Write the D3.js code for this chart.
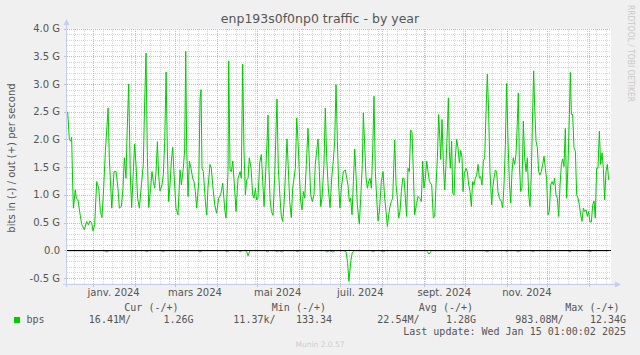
<!DOCTYPE html>
<html>
<head>
<meta charset="utf-8">
<script src="https://cdn.jsdelivr.net/npm/d3@7"></script>
<style>
  html, body { margin: 0; padding: 0; background: #F0F0F0; }
  svg { display: block; }
</style>
</head>
<body>
<svg id="chart" width="640" height="355"></svg>
<script>
// ---------------- DATA ----------------
const chartTitle = "enp193s0f0np0 traffic - by year";
const yAxisTitle = "bits in (-) / out (+) per second";
// time reference: day offsets are counted from this date (UTC)
const baseDate = "2024-01-01T00:00:00Z";
const domainStart = "2023-12-12T14:00:00Z";
const domainEnd = "2025-01-17T00:00:00Z";

const yTickValues = [-0.5, 0, 0.5, 1.0, 1.5, 2.0, 2.5, 3.0, 3.5, 4.0];
const yTickLabels = ["-0.5 G", "0.0", "0.5 G", "1.0 G", "1.5 G", "2.0 G", "2.5 G", "3.0 G", "3.5 G", "4.0 G"];
const xTickMonths = ["2024-01-01", "2024-03-01", "2024-05-01", "2024-07-01", "2024-09-01", "2024-11-01"];
const xTickLabels = ["janv. 2024", "mars 2024", "mai 2024", "juil. 2024", "sept. 2024", "nov. 2024"];

// out (+) traffic, Gbit/s, at day offsets from baseDate
const outDays = [
-18.9,-17.7,-16.7,-16.0,-15.2,-14.7,-13.3,-12.5,-11.3,-10.1,-8.6,-6.6,-4.9,-3.7,-2.4,-1.2,-0.2,1.0,2.5,4.0,
5.2,6.4,7.7,8.9,10.9,11.8,13.6,15.3,16.8,18.2,19.2,20.7,21.9,22.9,24.1,24.9,26.1,27.3,28.3,29.5,
30.5,31.5,32.7,34.0,35.5,36.9,37.9,38.9,39.9,40.9,42.3,43.3,44.3,45.3,46.3,47.3,48.2,49.2,50.7,51.7,
52.7,53.7,54.6,55.6,56.6,57.6,58.6,59.6,61.0,62.5,64.0,65.0,66.4,67.4,68.2,68.9,69.9,70.9,72.1,73.3,
74.3,75.3,76.3,77.8,78.8,79.5,80.2,81.2,82.7,83.7,84.6,86.1,87.1,88.1,89.6,91.0,92.5,94.0,95.5,97.0,
97.9,99.4,99.9,100.9,101.9,102.9,104.1,105.3,106.8,108.3,109.2,110.2,111.2,112.2,113.2,114.2,115.1,
116.4,117.6,118.6,119.6,120.5,121.5,122.8,124.0,125.0,126.0,127.2,128.2,128.9,129.6,130.4,131.4,132.6,133.8,134.8,
135.55,136.5,137.8,138.75,139.7,140.7,142.0,142.9,143.9,144.9,146.1,147.1,149.1,150.1,151.05,152.0,153.0,154.0,155.0,156.0,
157.2,158.4,159.4,160.4,161.6,162.85,163.8,164.8,165.8,166.8,167.8,168.75,170.2,171.2,172.2,173.4,174.7,175.9,177.1,178.1,
179.1,180.1,181.05,182.0,183.0,184.5,186.0,187.0,187.9,188.9,189.9,190.9,191.9,192.9,193.85,194.8,196.3,197.3,198.5,199.25,
200.2,201.2,202.2,203.2,204.2,205.2,206.15,207.1,208.1,209.1,210.1,211.1,212.5,213.8,215.0,216.0,217.0,218.0,218.9,219.9,
220.9,222.4,223.4,224.35,225.3,226.3,227.3,228.3,229.3,230.25,231.2,232.2,233.2,234.2,235.2,236.15,237.1,238.4,239.6,240.8,
242.05,243.0,244.0,245.0,246.0,247.0,248.0,
249.7,250.9,251.9,252.9,253.9,254.85,255.8,256.3,257.3,258.3,259.3,260.25,261.2,262.0,262.7,263.45,264.4,265.2,266.2,267.15,
268.1,269.1,270.1,271.1,272.1,272.8,273.8,275.0,276.0,277.0,278.0,278.95,279.9,280.9,281.9,282.9,283.9,284.85,285.8,286.8,
287.8,288.8,289.8,290.75,291.7,292.7,293.95,294.7,295.7,296.7,297.6,298.6,299.6,301.1,302.1,303.05,304.05,305.0,306.0,307.0,
308.0,308.95,309.9,310.9,311.9,312.9,313.6,314.4,315.35,316.3,317.3,318.3,319.3,320.3,321.25,322.2,323.2,324.2,324.95,325.7,
326.7,327.65,328.6,329.6,330.6,331.6,332.6,333.55,334.5,335.5,336.5,337.5,338.5,339.5,340.4,341.4,342.4,343.4,344.4,345.4,
346.35,347.3,348.3,349.3,350.3,351.3,352.0,352.75,353.7,354.7,355.7,356.7,357.7,358.65,359.6,360.6,361.6,362.6,363.6,364.55,
365.5,366.5,367.5,368.5,369.5,370.4,371.4,372.4,373.4,374.4,375.4,376.35,377.3,378.3,379.3,380.3
];
const outValues = [
2.50,2.00,1.97,2.04,1.18,0.76,1.09,0.94,0.91,0.70,0.47,0.37,0.52,0.46,0.53,0.49,0.35,0.46,1.24,1.12,
0.70,0.59,1.15,1.79,2.57,1.67,0.76,1.42,1.42,1.12,0.76,0.79,1.12,1.67,1.30,2.09,3.00,1.36,0.77,1.42,
1.92,1.55,0.94,0.76,1.18,1.55,2.69,3.56,1.67,0.77,1.12,1.42,1.24,1.12,1.42,1.96,1.36,1.07,1.18,1.38,
1.97,3.22,1.85,0.88,1.18,1.61,1.86,1.36,0.76,0.64,1.45,1.18,1.48,1.81,3.59,1.85,0.97,1.61,1.48,1.30,
1.24,1.06,0.76,1.24,2.75,2.90,1.48,1.42,0.88,0.64,1.12,1.55,1.48,1.18,0.82,0.67,0.94,1.00,1.21,0.73,
0.58,1.42,3.42,1.45,1.42,1.61,1.18,0.70,1.30,1.42,1.30,3.36,1.79,1.00,1.27,1.30,1.67,
1.48,1.00,0.94,1.12,0.91,0.94,1.58,1.73,1.24,0.79,1.42,1.97,2.44,1.48,0.94,0.70,0.63,1.30,2.15,
2.73,1.48,0.94,0.61,0.52,0.82,1.48,2.01,1.48,0.88,0.59,1.12,1.48,2.39,1.97,1.42,0.88,0.73,1.06,0.94,
1.55,2.20,1.61,1.00,0.88,1.00,1.55,1.79,2.01,1.42,0.79,0.94,1.55,2.57,1.67,1.12,0.77,1.30,1.61,1.97,
2.99,1.97,1.18,0.76,1.12,1.42,1.45,1.30,1.18,0.88,0.94,0.64,1.24,1.83,1.36,0.82,0.47,0.94,1.55,2.48,
1.91,1.33,1.12,1.24,1.30,1.12,1.79,2.78,1.42,0.94,0.53,0.70,1.24,1.42,0.94,0.70,0.43,0.64,0.79,0.88,
0.94,1.99,1.18,0.94,0.58,0.70,1.06,1.30,1.30,0.94,0.61,1.48,1.42,2.17,2.12,1.42,0.64,0.82,0.97,0.94,
0.88,1.61,1.12,1.30,1.61,1.42,1.24,
1.18,0.58,0.61,1.18,1.67,2.45,1.97,1.64,2.36,1.55,1.09,1.55,2.15,2.75,1.79,1.48,1.97,1.03,1.00,1.67,
2.00,1.85,1.58,1.80,1.67,1.06,1.39,1.48,1.42,1.18,1.06,0.79,1.24,1.18,1.30,1.36,1.55,1.30,1.33,1.18,
1.61,1.67,2.51,3.18,2.51,1.42,0.82,1.12,1.30,1.45,1.42,1.06,0.94,0.88,0.77,1.18,1.91,3.01,1.97,1.24,
0.85,1.42,1.67,1.55,1.73,2.33,2.84,1.55,1.06,1.12,2.33,1.67,1.42,1.67,1.00,0.79,1.36,2.51,3.24,2.57,
1.97,1.85,1.42,1.36,1.42,1.55,1.70,1.48,1.27,0.64,0.70,1.18,1.24,1.18,1.30,1.00,0.94,0.61,1.18,1.55,
1.65,1.51,2.20,0.94,1.58,2.45,3.21,2.45,2.45,1.85,1.79,1.00,0.94,0.82,0.64,0.52,0.76,0.70,0.73,0.61,
0.70,0.51,0.51,0.82,0.89,0.58,1.48,1.48,2.15,1.55,1.76,1.48,0.91,1.42,1.55,1.27
];

// in (-) traffic, Gbit/s (drawn below zero)
const inDays = [-19,-10,0,8,10.1,12,20,30,38,39.6,41,50,51.4,53,60,70,77,78.7,80.5,90,97,98.7,100.5,107,108.2,110,113,114.2,115.5,
120,127,128.2,130,134,135.6,137,139.3,141,149,150.3,152,160,171,172.4,174,176.8,178.5,185,186.5,187.7,188.6,189.4,190.1,191.1,
192.5,200,205,206.4,208,212,213.8,215.5,230,246,247.7,249.5,260,275,289,290.5,292,304,305.2,306.5,312,313.4,315,323,324.4,
326,340,350,351.7,353,365,366.5,368,380];
const inValues = [0.01,0.01,0.01,0.01,0.03,0.01,0.01,0.01,0.01,0.03,0.01,0.01,0.03,0.01,0.01,0.01,0.01,0.03,0.01,0.01,0.01,0.03,0.01,0.01,0.03,0.01,0.01,0.10,0.01,
0.01,0.01,0.03,0.01,0.01,0.03,0.01,0.03,0.01,0.01,0.03,0.01,0.01,0.01,0.03,0.01,0.03,0.01,0.01,0.025,0.24,0.56,0.36,0.18,0.04,
0.01,0.01,0.01,0.03,0.01,0.01,0.03,0.01,0.01,0.01,0.07,0.01,0.01,0.01,0.01,0.03,0.01,0.01,0.03,0.01,0.01,0.03,0.01,0.01,0.03,
0.01,0.01,0.01,0.03,0.01,0.01,0.03,0.01,0.01];

const legendName = "bps";
const legendHeaders = ["Cur (-/+)", "Min (-/+)", "Avg (-/+)", "Max (-/+)"];
const legendValues = ["16.41M/", "1.26G", "11.37k/", "133.34", "22.54M/", "1.28G", "983.08M/", "12.34G"];
const lastUpdate = "Last update: Wed Jan 15 01:00:02 2025";
const footer = "Munin 2.0.57";
const watermark = "RRDTOOL / TOBI OETIKER";

// ---------------- DRAWING ----------------
const svg = d3.select("#chart");
const W = 640, H = 355;
const plot = { left: 67, right: 611, top: 28.7, bottom: 283.5 };
const DAY = 86400000;
const base = new Date(baseDate).getTime();
const toDate = d => new Date(base + d * DAY);

const x = d3.scaleUtc().domain([new Date(domainStart), new Date(domainEnd)]).range([plot.left, plot.right]);
const y = d3.scaleLinear().domain([-0.6, 4.0]).range([plot.bottom, plot.top]);

const grey = "#555555";
const sans = "'DejaVu Sans', sans-serif";
const mono = "'DejaVu Sans Mono', monospace";

svg.append("rect").attr("width", W).attr("height", H).attr("fill", "#F0F0F0");
svg.append("rect").attr("x", plot.left).attr("y", plot.top)
  .attr("width", plot.right - plot.left).attr("height", plot.bottom - plot.top).attr("fill", "#FFFFFF");

const px = v => Math.round(v) + 0.5;
const grid = svg.append("g");
const minorColor = "#d6d6d6";
const majorColor = "#eeaaaa";

// minor horizontal grid (every 0.1 G)
const minorY = d3.range(-6, 41).map(i => i / 10).filter(v => Math.abs(v * 2 - Math.round(v * 2)) > 1e-6);
grid.selectAll(".hmin").data(minorY).join("line")
  .attr("x1", plot.left).attr("x2", plot.right)
  .attr("y1", d => px(y(d))).attr("y2", d => px(y(d)))
  .attr("stroke", minorColor).attr("stroke-dasharray", "1,1").attr("shape-rendering", "crispEdges");

// minor vertical grid (weekly, Mondays)
const weeks = d3.utcMonday.range(new Date(domainStart), new Date(domainEnd));
grid.selectAll(".vmin").data(weeks).join("line")
  .attr("x1", d => px(x(d))).attr("x2", d => px(x(d)))
  .attr("y1", plot.top).attr("y2", plot.bottom)
  .attr("stroke", minorColor).attr("stroke-dasharray", "1,1").attr("shape-rendering", "crispEdges");

// major horizontal grid
grid.selectAll(".hmaj").data(yTickValues).join("line")
  .attr("x1", plot.left).attr("x2", plot.right)
  .attr("y1", d => px(y(d))).attr("y2", d => px(y(d)))
  .attr("stroke", majorColor).attr("stroke-dasharray", "1,1").attr("shape-rendering", "crispEdges");

// major vertical grid (monthly)
const months = d3.utcMonth.range(new Date(domainStart), new Date(domainEnd));
grid.selectAll(".vmaj").data(months).join("line")
  .attr("x1", d => px(x(d))).attr("x2", d => px(x(d)))
  .attr("y1", plot.top).attr("y2", plot.bottom)
  .attr("stroke", majorColor).attr("stroke-dasharray", "1,1").attr("shape-rendering", "crispEdges");

// y tick labels
svg.append("g").selectAll("text").data(yTickValues).join("text")
  .attr("x", 60).attr("y", d => y(d) + 3.6)
  .attr("text-anchor", "end").attr("font-family", sans).attr("font-size", 10).attr("fill", grey)
  .text((d, i) => yTickLabels[i]);

// x tick labels (centered mid-month)
svg.append("g").selectAll("text").data(xTickMonths).join("text")
  .attr("x", d => x(d3.utcDay.offset(new Date(d + "T00:00:00Z"), 15)))
  .attr("y", 296)
  .attr("text-anchor", "middle").attr("font-family", sans).attr("font-size", 10).attr("fill", grey)
  .text((d, i) => xTickLabels[i]);

// data lines
const lineOut = d3.line().x(d => x(toDate(d[0]))).y(d => y(d[1]));
const outData = outDays.map((d, i) => [d, outValues[i]]);
const inData = inDays.map((d, i) => [d, -inValues[i]]);

svg.append("path").datum(inData).attr("d", lineOut)
  .attr("fill", "none").attr("stroke", "#00CC00").attr("stroke-width", 1);
svg.append("path").datum(outData).attr("d", lineOut)
  .attr("fill", "none").attr("stroke", "#00CC00").attr("stroke-width", 1);

// zero line
svg.append("line").attr("x1", plot.left).attr("x2", plot.right)
  .attr("y1", px(y(0))).attr("y2", px(y(0)))
  .attr("stroke", "#000000").attr("stroke-width", 1).attr("shape-rendering", "crispEdges");

// axes
const axisColor = "#c6cdf5";
svg.append("line").attr("x1", plot.left - 0.5).attr("x2", plot.left - 0.5)
  .attr("y1", plot.bottom + 3).attr("y2", 22).attr("stroke", axisColor).attr("shape-rendering", "crispEdges");
svg.append("path").attr("d", `M${plot.left - 3.5},25 L${plot.left - 0.5},19 L${plot.left + 2.5},25 Z`).attr("fill", axisColor);
svg.append("line").attr("x1", plot.left - 4).attr("x2", plot.right + 5)
  .attr("y1", px(plot.bottom)).attr("y2", px(plot.bottom)).attr("stroke", axisColor).attr("shape-rendering", "crispEdges");
svg.append("path").attr("d", `M${plot.right + 4},${px(plot.bottom) - 3} L${plot.right + 10},${px(plot.bottom)} L${plot.right + 4},${px(plot.bottom) + 3} Z`).attr("fill", axisColor);

// axis tick marks
svg.append("g").selectAll("line").data(months).join("line")
  .attr("x1", d => px(x(d))).attr("x2", d => px(x(d)))
  .attr("y1", plot.bottom + 1).attr("y2", plot.bottom + 3.5)
  .attr("stroke", "#c4c4c4").attr("shape-rendering", "crispEdges");
svg.append("g").selectAll("line").data(yTickValues).join("line")
  .attr("x1", plot.left - 3).attr("x2", plot.left - 1)
  .attr("y1", d => px(y(d))).attr("y2", d => px(y(d)))
  .attr("stroke", "#c4c4c4").attr("shape-rendering", "crispEdges");

// title
svg.append("text").attr("x", 320).attr("y", 23).attr("text-anchor", "middle")
  .attr("font-family", sans).attr("font-size", 12.5).attr("fill", grey).text(chartTitle);

// y axis title
svg.append("text").attr("transform", "translate(15,158) rotate(-90)").attr("text-anchor", "middle")
  .attr("font-family", sans).attr("font-size", 10).attr("fill", grey).text(yAxisTitle);

// watermark
svg.append("text").attr("transform", "translate(628,5) rotate(90)")
  .attr("font-family", sans).attr("font-size", 8.5).attr("fill", "#c8c8c8")
  .attr("textLength", 97).attr("lengthAdjust", "spacingAndGlyphs").text(watermark);

// legend
const headerEnds = [178.5, 326, 473, 619.5];
svg.append("g").selectAll("text").data(legendHeaders).join("text")
  .attr("x", (d, i) => headerEnds[i]).attr("y", 311).attr("text-anchor", "end")
  .attr("font-family", mono).attr("font-size", 10).attr("fill", grey).text(d => d);
svg.append("rect").attr("x", 14).attr("y", 317).attr("width", 6).attr("height", 6).attr("fill", "#00CC00");
svg.append("text").attr("x", 26.5).attr("y", 323).attr("font-family", mono).attr("font-size", 10)
  .attr("fill", grey).text(legendName);
const valueEnds = [131, 193.5, 275.5, 332, 419.5, 476, 563.5, 626];
svg.append("g").selectAll("text").data(legendValues).join("text")
  .attr("x", (d, i) => valueEnds[i]).attr("y", 323).attr("text-anchor", "end")
  .attr("font-family", mono).attr("font-size", 10).attr("fill", grey).text(d => d);
svg.append("text").attr("x", 626).attr("y", 334.7).attr("text-anchor", "end")
  .attr("font-family", mono).attr("font-size", 10).attr("fill", grey).text(lastUpdate);

// footer
svg.append("text").attr("x", 320).attr("y", 347).attr("text-anchor", "middle")
  .attr("font-family", sans).attr("font-size", 7.5).attr("fill", "#cccccc").text(footer);
</script>
</body>
</html>
